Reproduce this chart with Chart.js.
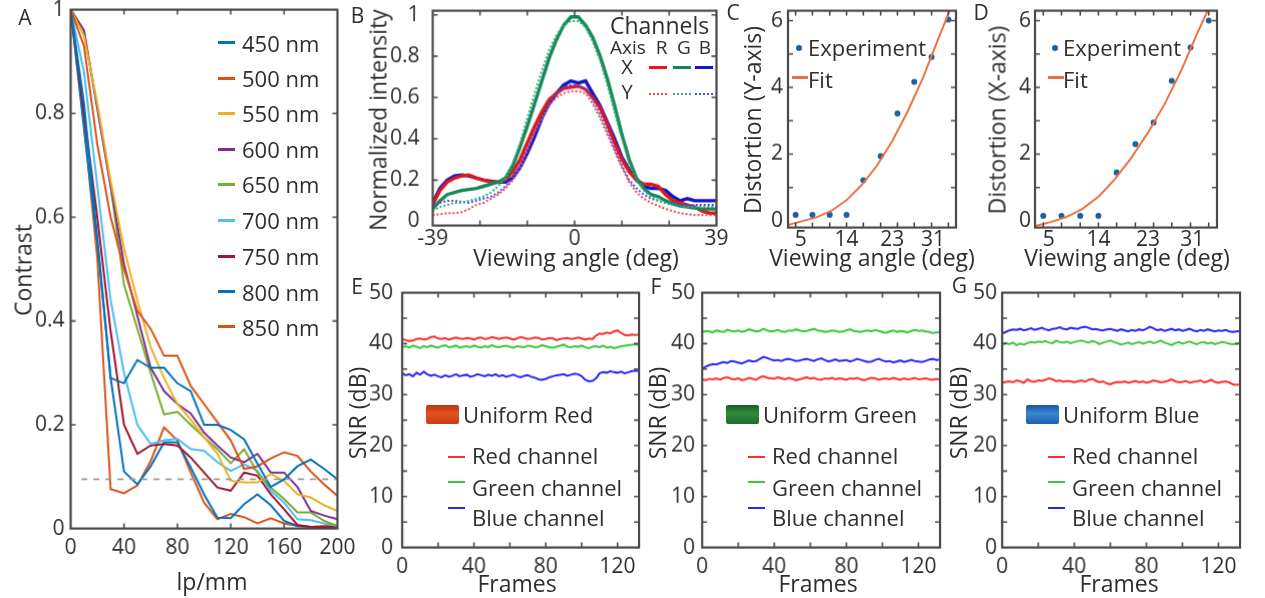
<!DOCTYPE html>
<html><head><meta charset="utf-8">
<script src="https://cdn.jsdelivr.net/npm/chart.js@4.4.0/dist/chart.umd.min.js"></script>
<style>
html,body{margin:0;padding:0;background:#fff;}
#stage{position:relative;width:1265px;height:598px;overflow:hidden;background:#fff;font-family:"Open Sans",sans-serif;color:#2e2e2e;}
.t{position:absolute;white-space:nowrap;line-height:1;}
.sw{position:absolute;}
</style></head><body><div id="stage"></div>
<script>
// ---------- Panel A: MTF contrast ----------
const lpmm = [0,10,20,30,40,50,60,70,80,90,100,110,120,130,140,150,160,170,180,190,200];
const wavelengths = ['450 nm','500 nm','550 nm','600 nm','650 nm','700 nm','750 nm','800 nm','850 nm'];
const c450 = [1.00,0.82,0.56,0.29,0.28,0.325,0.31,0.31,0.28,0.265,0.20,0.20,0.19,0.172,0.125,0.08,0.095,0.12,0.133,0.115,0.095];
const c500 = [1.00,0.93,0.74,0.60,0.50,0.42,0.385,0.333,0.333,0.275,0.24,0.205,0.17,0.115,0.12,0.135,0.147,0.14,0.11,0.085,0.063];
const c550 = [1.00,0.95,0.82,0.67,0.54,0.44,0.35,0.29,0.24,0.21,0.176,0.144,0.092,0.089,0.089,0.105,0.092,0.066,0.06,0.045,0.034];
const c600 = [1.00,0.96,0.81,0.66,0.51,0.41,0.31,0.265,0.24,0.222,0.185,0.16,0.137,0.128,0.144,0.108,0.108,0.08,0.034,0.025,0.018];
const c650 = [1.00,0.96,0.81,0.66,0.47,0.385,0.30,0.22,0.225,0.20,0.176,0.153,0.126,0.153,0.108,0.079,0.057,0.031,0.031,0.015,0.005];
const c700 = [1.00,0.88,0.66,0.44,0.30,0.20,0.163,0.17,0.173,0.153,0.15,0.128,0.111,0.124,0.111,0.073,0.05,0.018,0.016,0.01,0.005];
const c750 = [1.00,0.80,0.60,0.38,0.20,0.144,0.16,0.163,0.16,0.137,0.108,0.079,0.073,0.108,0.102,0.066,0.037,0.007,0.003,0.003,0.003];
const c800 = [1.00,0.77,0.55,0.29,0.11,0.085,0.12,0.166,0.166,0.118,0.066,0.021,0.02,0.047,0.066,0.045,0.015,0.005,0.003,0.003,0.003];
const c850 = [1.00,0.78,0.52,0.076,0.068,0.083,0.13,0.195,0.17,0.108,0.05,0.018,0.028,0.022,0.01,0.02,0.01,0.005,0.003,0.005,0.005];
const thresholdLevel = 0.095;
const thresholdRange = [8,200];
const ticksAx = [0,40,80,120,160,200];
const ticksAy = [0,0.2,0.4,0.6,0.8,1];

// ---------- Panel B: normalized intensity ----------
const angleB = [-39,-37,-35,-33,-31,-29,-27,-25,-23,-21,-19,-17,-15,-13,-11,-9,-7,-5,-3,-1,1,3,5,7,9,11,13,15,17,19,21,23,25,27,29,31,33,35,37,39];
const bRedX   = [0.08,0.15,0.19,0.21,0.22,0.225,0.21,0.20,0.19,0.19,0.20,0.24,0.30,0.38,0.46,0.53,0.59,0.62,0.645,0.65,0.655,0.64,0.60,0.55,0.47,0.38,0.30,0.24,0.20,0.18,0.18,0.17,0.13,0.10,0.09,0.08,0.07,0.05,0.04,0.04];
const bGreenX = [0.06,0.10,0.13,0.14,0.15,0.155,0.16,0.17,0.18,0.19,0.21,0.27,0.36,0.46,0.57,0.68,0.79,0.88,0.95,0.99,0.99,0.95,0.89,0.80,0.69,0.56,0.42,0.30,0.21,0.16,0.13,0.12,0.10,0.085,0.075,0.07,0.065,0.06,0.06,0.06];
const bBlueX  = [0.09,0.16,0.20,0.22,0.225,0.22,0.21,0.20,0.195,0.19,0.19,0.21,0.26,0.33,0.41,0.50,0.57,0.62,0.66,0.68,0.67,0.68,0.62,0.56,0.48,0.40,0.31,0.25,0.20,0.17,0.16,0.16,0.15,0.12,0.10,0.11,0.10,0.10,0.10,0.10];
const bRedY   = [0.03,0.035,0.04,0.04,0.045,0.06,0.08,0.09,0.11,0.13,0.16,0.20,0.26,0.34,0.43,0.50,0.56,0.60,0.62,0.63,0.63,0.62,0.57,0.50,0.42,0.34,0.26,0.19,0.14,0.11,0.09,0.075,0.06,0.05,0.04,0.035,0.03,0.03,0.03,0.03];
const bGreenY = [0.05,0.07,0.08,0.09,0.09,0.10,0.11,0.12,0.14,0.17,0.21,0.28,0.38,0.50,0.62,0.73,0.83,0.90,0.95,0.97,0.97,0.94,0.87,0.78,0.66,0.53,0.40,0.28,0.20,0.15,0.12,0.10,0.09,0.08,0.07,0.07,0.07,0.07,0.07,0.07];
const bBlueY  = [0.07,0.09,0.10,0.10,0.095,0.09,0.10,0.11,0.12,0.14,0.17,0.21,0.27,0.35,0.43,0.50,0.57,0.62,0.65,0.66,0.66,0.64,0.59,0.52,0.44,0.35,0.27,0.20,0.16,0.13,0.11,0.10,0.09,0.08,0.08,0.08,0.08,0.08,0.08,0.08];
const ticksBx = [-39,0,39];
const ticksBy = [0,0.2,0.4,0.6,0.8,1];

// ---------- Panels C, D: distortion ----------
const expAngle = [4,7.3,10.7,14,17.3,20.7,24,27.3,30.7,34];
const distYaxis = [0.18,0.18,0.18,0.18,1.22,1.94,3.22,4.17,4.91,6.03];
const distXaxis = [0.15,0.15,0.15,0.15,1.45,2.30,2.95,4.20,5.20,6.00];
const fitAngle = [2.5,5,8,11,14,17,20,23,26,29,32,34.5];
const fitYaxis = [-0.12,-0.02,0.10,0.30,0.62,1.08,1.66,2.40,3.28,4.28,5.45,6.40];
const fitXaxis = [-0.15,-0.05,0.10,0.35,0.72,1.25,1.90,2.65,3.50,4.50,5.65,6.55];
const ticksCDx = [5,14,23,31];
const ticksCDy = [0,2,4,6];

// ---------- Panels E, F, G: SNR vs frames ----------
const frameStep = 2;
const eRed   = [40.9,40.7,40.5,40.6,40.9,41.0,40.8,40.9,41.3,41.4,41.0,40.9,41.1,40.8,41.0,41.2,41.0,40.9,41.1,41.0,40.8,41.1,41.2,40.9,41.0,41.3,41.1,40.9,41.1,41.2,41.0,40.8,41.0,41.3,41.1,40.9,41.0,41.2,41.1,40.8,40.9,41.1,41.0,40.7,40.9,41.0,41.1,40.9,41.0,41.2,41.0,40.8,41.0,40.9,41.6,42.0,41.9,42.2,42.0,42.4,42.6,42.1,41.7,41.6,41.8,41.7,41.8];
const eGreen = [39.3,39.5,39.2,39.6,39.4,39.1,39.5,39.3,39.6,39.4,39.2,39.5,39.7,39.3,39.4,39.6,39.2,39.4,39.5,39.3,39.6,39.4,39.2,39.5,39.3,39.7,39.4,39.3,39.5,39.6,39.4,39.2,39.5,39.4,39.3,39.6,39.5,39.3,39.4,39.7,39.5,39.3,39.2,39.4,39.6,39.8,39.4,39.3,39.5,39.4,39.6,39.3,39.1,39.4,39.5,39.3,39.6,39.2,39.4,39.1,39.3,39.5,39.6,39.7,39.8,39.9,39.8];
const eBlue  = [34.2,33.8,34.0,33.6,34.3,33.9,34.5,34.0,33.7,33.9,33.6,33.4,33.8,33.5,33.7,34.0,33.6,33.8,33.9,33.5,33.7,34.0,33.8,33.6,33.9,33.7,34.0,33.6,33.8,33.5,33.7,33.9,33.6,33.4,33.7,33.8,33.5,33.3,33.0,32.9,33.1,33.4,33.6,33.8,33.9,34.0,33.7,33.9,34.1,34.0,33.6,32.9,32.6,32.7,33.2,34.2,34.4,34.3,34.6,34.4,34.3,34.5,34.2,34.4,34.6,34.7,34.6];
const fGreen = [42.3,42.5,42.4,42.2,42.6,42.4,42.3,42.7,42.5,42.4,42.6,42.3,42.5,42.8,42.6,42.4,42.5,42.9,42.6,42.4,42.5,42.7,42.4,42.3,42.6,42.5,42.8,42.6,42.4,42.5,42.7,42.9,42.6,42.5,42.3,42.4,42.6,42.5,42.3,42.4,42.6,42.8,42.5,42.4,42.3,42.5,42.6,42.4,42.7,42.5,42.3,42.1,42.4,42.6,42.3,42.5,42.4,42.2,42.5,42.7,42.5,42.6,42.4,42.3,42.1,42.2,42.3];
const fBlue  = [35.0,35.5,35.8,36.0,35.9,36.2,36.4,36.2,36.6,36.5,36.3,36.1,36.4,36.7,36.5,36.6,37.0,37.4,37.2,36.9,36.7,36.8,36.6,36.9,37.0,36.8,36.6,36.7,36.9,37.0,36.8,36.6,36.9,37.1,36.8,36.5,36.7,36.9,36.6,36.7,36.8,36.5,36.7,37.0,36.8,36.6,36.4,36.5,36.8,37.0,36.7,36.5,36.6,36.3,36.5,36.7,36.4,36.6,36.8,36.6,36.5,36.4,36.6,36.9,37.0,36.8,36.9];
const fRed   = [33.0,32.8,33.1,33.0,33.2,32.9,33.3,33.4,33.1,33.0,33.2,32.8,33.0,33.3,33.1,32.9,33.4,33.6,33.3,33.2,33.1,33.4,33.2,33.0,33.3,33.1,32.8,33.0,33.2,33.4,33.1,33.3,33.0,32.9,33.2,33.1,33.3,33.0,33.2,33.1,32.9,33.2,33.1,33.3,33.0,32.8,33.1,33.3,33.2,32.9,33.1,33.2,33.0,33.3,33.1,32.9,33.2,33.0,33.1,33.3,33.0,33.1,33.2,33.0,32.9,33.1,33.0];
const gBlue  = [42.0,42.3,42.6,42.8,42.7,42.9,42.6,42.8,43.0,42.7,42.9,43.1,42.8,42.6,42.9,43.0,43.2,42.9,42.8,43.1,43.0,42.9,43.2,43.3,43.1,42.8,42.9,42.7,42.6,42.8,42.9,42.7,42.5,42.8,42.6,42.4,42.7,42.5,42.8,42.6,42.9,43.3,43.0,42.6,42.8,42.5,42.7,42.9,42.6,42.8,42.5,42.7,42.9,42.6,42.4,42.7,42.5,42.8,42.6,42.4,42.6,42.5,42.7,42.4,42.3,42.4,42.5];
const gGreen = [39.8,40.1,39.9,40.2,39.7,40.0,39.8,40.1,40.3,40.2,40.4,40.3,40.5,40.2,40.1,40.6,40.3,40.2,40.4,40.1,40.3,40.5,40.6,40.4,40.2,40.5,40.3,39.9,40.2,40.4,40.6,40.3,40.1,39.8,40.0,40.2,39.9,40.1,40.3,40.0,40.2,40.4,40.1,40.3,40.6,40.2,40.0,39.7,40.1,40.3,40.0,40.2,40.4,40.1,39.9,40.2,40.3,40.0,40.2,39.9,40.1,40.3,40.2,40.0,39.9,40.0,40.1];
const gRed   = [32.3,32.5,32.6,32.4,32.8,32.6,32.3,33.0,32.6,32.5,32.8,32.7,32.9,33.2,33.0,32.6,32.8,32.5,32.7,32.6,32.4,32.6,32.8,32.5,32.9,33.1,32.7,32.4,32.6,32.2,32.0,32.3,32.5,32.4,32.6,32.3,32.5,32.7,32.4,32.6,32.3,32.5,32.8,32.6,32.4,32.5,32.7,33.0,32.6,32.4,32.5,32.7,32.3,32.5,32.6,32.8,32.4,32.6,32.9,32.5,32.3,32.5,32.6,32.4,32.0,31.9,32.0];
const ticksSNRx = [0,40,80,120];
const ticksSNRy = [0,10,20,30,40,50];

// ---------- helpers ----------
Chart.defaults.font.family = "'Open Sans', sans-serif";
Chart.defaults.color = '#2e2e2e';
const stage = document.getElementById('stage');
const TICK = 21;
const M = {blue:'#0072BD', orange:'#D95319', yellow:'#EDB120', purple:'#7E2F8E', green:'#77AC30', cyan:'#4DBEEE', maroon:'#A2142F'};

function pts(xs, ys){ return ys.map((v,i)=>({x:xs[i], y:v})); }
function framePts(ys){ return ys.map((v,i)=>({x:i*frameStep, y:v})); }

function axes(o){
  const mk = (min,max,t,pad)=>({type:'linear',min:min,max:max,
    grid:{display:false,drawTicks:false},border:{display:false},
    ticks:{padding:pad,autoSkip:false,maxRotation:0,minRotation:0,font:{size:TICK},color:'#2e2e2e',callback:v=>String(v)},
    afterBuildTicks:s=>{s.ticks=t.map(v=>({value:v}));}});
  return {x:mk(o.xmin,o.xmax,o.xt,o.xpad), y:mk(o.ymin,o.ymax,o.yt,o.ypad)};
}

function boxPlugin(xm, ym){
  return {id:'boxticks', afterDatasetsDraw(chart){
    const ctx=chart.ctx, a=chart.chartArea, sx=chart.scales.x, sy=chart.scales.y, L=5;
    ctx.save(); ctx.strokeStyle='#4a4a4a'; ctx.lineWidth=1.6; ctx.beginPath();
    xm.forEach(v=>{const p=sx.getPixelForValue(v); ctx.moveTo(p,a.bottom); ctx.lineTo(p,a.bottom-L); ctx.moveTo(p,a.top); ctx.lineTo(p,a.top+L);});
    ym.forEach(v=>{const p=sy.getPixelForValue(v); ctx.moveTo(a.left,p); ctx.lineTo(a.left+L,p); ctx.moveTo(a.right,p); ctx.lineTo(a.right-L,p);});
    ctx.stroke(); ctx.lineWidth=2.2; ctx.strokeRect(a.left,a.top,a.right-a.left,a.bottom-a.top); ctx.restore();
  }};
}

function mount(area, datasets, ax, xm, ym){
  const wrap=document.createElement('div');
  wrap.style.cssText='position:absolute;left:0;top:0;';
  const cv=document.createElement('canvas'); wrap.appendChild(cv); stage.appendChild(wrap);
  let W=area.r-area.l+100, H=area.b-area.t+60;
  wrap.style.width=W+'px'; wrap.style.height=H+'px';
  const ch=new Chart(cv,{type:'line',data:{datasets:datasets},
    options:{responsive:true,maintainAspectRatio:false,animation:false,events:[],
      layout:{padding:0},
      plugins:{legend:{display:false},tooltip:{enabled:false}},
      elements:{point:{radius:0},line:{tension:0}},
      scales:axes(ax)},
    plugins:[boxPlugin(xm,ym)]});
  for(let k=0;k<3;k++){
    const ca=ch.chartArea;
    W+=(area.r-area.l)-(ca.right-ca.left);
    H+=(area.b-area.t)-(ca.bottom-ca.top);
    wrap.style.width=W+'px'; wrap.style.height=H+'px';
    ch.resize();
  }
  const ca=ch.chartArea;
  wrap.style.left=(area.l-ca.left)+'px'; wrap.style.top=(area.t-ca.top)+'px';
  return ch;
}

function T(str,x,y,size,o){
  o=o||{};
  const d=document.createElement('div'); d.className='t'; d.textContent=str;
  d.style.fontSize=size+'px'; d.style.left=x+'px'; d.style.top=y+'px';
  let tf=o.left?'translate(0,-50%)':'translate(-50%,-50%)';
  if(o.rot) tf+=' rotate(-90deg)';
  d.style.transform=tf;
  if(o.color) d.style.color=o.color;
  stage.appendChild(d); return d;
}
function R(x,y,w,h,css){
  const d=document.createElement('div'); d.className='sw';
  d.style.left=x+'px'; d.style.top=y+'px'; d.style.width=w+'px'; d.style.height=h+'px';
  d.style.cssText+=css; stage.appendChild(d); return d;
}
function line(ds){ return Object.assign({borderWidth:2,pointRadius:0,fill:false},ds); }

// ---------- Panel A ----------
const aSeries=[c450,c500,c550,c600,c650,c700,c750,c800,c850];
const aColors=[M.blue,M.orange,M.yellow,M.purple,M.green,M.cyan,M.maroon,M.blue,M.orange];
const aDs=aSeries.map((s,i)=>line({data:pts(lpmm,s),borderColor:aColors[i],borderWidth:2}));
aDs.unshift(line({data:pts(thresholdRange,[thresholdLevel,thresholdLevel]),borderColor:'#9a9a9a',borderDash:[6,6],borderWidth:1.8}));
mount({l:71,t:10,r:337,b:528},aDs,{xmin:0,xmax:200,xt:ticksAx,ymin:0,ymax:1,yt:ticksAy,xpad:7,ypad:6},[40,80,120,160],[0.2,0.4,0.6,0.8]);

// ---------- Panel B ----------
const bDs=[
  line({data:pts(angleB,bRedY),borderColor:'#e84848',borderWidth:2,borderDash:[2,2]}),
  line({data:pts(angleB,bGreenY),borderColor:'#38a870',borderWidth:2,borderDash:[2,2]}),
  line({data:pts(angleB,bBlueY),borderColor:'#4a4ae6',borderWidth:2,borderDash:[2,2]}),
  line({data:pts(angleB,bGreenX),borderColor:'#12895a',borderWidth:3.4}),
  line({data:pts(angleB,bRedX),borderColor:'#e01818',borderWidth:3.4}),
  line({data:pts(angleB,bBlueX),borderColor:'#1414c8',borderWidth:3.4})
];
mount({l:433,t:11,r:716,b:225},bDs,{xmin:-39,xmax:39,xt:ticksBx,ymin:-0.02,ymax:1.02,yt:ticksBy,xpad:1,ypad:13},[-26,-13,0,13,26],[0.2,0.4,0.6,0.8,1]);

// ---------- Panels C, D ----------
function distDs(expY, fitY){
  return [
    line({data:pts(fitAngle,fitY),borderColor:'#ee7040',borderWidth:2}),
    {type:'scatter',data:pts(expAngle,expY),pointRadius:3,pointBackgroundColor:'#1f5f9f',pointBorderWidth:0,showLine:false}
  ];
}
mount({l:788,t:11,r:956,b:227},distDs(distYaxis,fitYaxis),{xmin:2.5,xmax:35.5,xt:ticksCDx,ymin:-0.2,ymax:6.3,yt:ticksCDy,xpad:0,ypad:5},expAngle,[1,2,3,4,5,6]);
mount({l:1035,t:11,r:1217,b:227},distDs(distXaxis,fitXaxis),{xmin:2.5,xmax:35.5,xt:ticksCDx,ymin:-0.2,ymax:6.3,yt:ticksCDy,xpad:0,ypad:4},expAngle,[1,2,3,4,5,6]);

// ---------- Panels E, F, G ----------
const SR='#ff2e2e', SG='#3cc83c', SB='#2626ff';
function snrDs(r,g,b){ return [
  line({data:framePts(r),borderColor:SR}),
  line({data:framePts(g),borderColor:SG}),
  line({data:framePts(b),borderColor:SB})]; }
const snrX=[20,40,60,80,100,120], snrY=[5,10,15,20,25,30,35,40,45];
mount({l:402,t:293,r:638,b:547},snrDs(eRed,eGreen,eBlue),{xmin:0,xmax:132,xt:ticksSNRx,ymin:0,ymax:50,yt:ticksSNRy,xpad:7,ypad:9},snrX,snrY);
mount({l:702,t:293,r:939,b:547},snrDs(fRed,fGreen,fBlue),{xmin:0,xmax:132,xt:ticksSNRx,ymin:0,ymax:50,yt:ticksSNRy,xpad:7,ypad:7},snrX,snrY);
mount({l:1002,t:293,r:1239,b:547},snrDs(gRed,gGreen,gBlue),{xmin:0,xmax:132,xt:ticksSNRx,ymin:0,ymax:50,yt:ticksSNRy,xpad:7,ypad:5},snrX,snrY);

// ---------- Text: panel letters ----------
const LT=21;
T('A',25,17,LT); T('B',357.5,14.5,LT); T('C',733,12,LT); T('D',981,12,LT);
T('E',357,286,LT); T('F',656,286,LT); T('G',959.5,285,LT);

// ---------- Axis titles ----------
const TT=23;
T('Contrast',23,270,TT,{rot:1}); T('lp/mm',212,581,TT);
T('Normalized intensity',378,120,TT,{rot:1}); T('Viewing angle (deg)',576,257,TT);
T('Distortion  (Y-axis)',752,120,TT,{rot:1}); T('Viewing angle (deg)',872,257,TT);
T('Distortion (X-axis)',997,120,TT,{rot:1}); T('Viewing angle (deg)',1127,257,TT);
T('SNR (dB)',357,413,TT,{rot:1}); T('Frames',517,583,TT);
T('SNR (dB)',657,413,TT,{rot:1}); T('Frames',818,583,TT);
T('SNR (dB)',958,413,TT,{rot:1}); T('Frames',1119,583,TT);

// ---------- Legend A ----------
const aRows=[42.7,78.3,113.3,149.3,184,220,256,291.5,326.7];
wavelengths.forEach((w,i)=>{ R(218,aRows[i]-1.5,17,3,'background:'+aColors[i]+';'); T(w,242,aRows[i],22,{left:1}); });

// ---------- Legend B ----------
T('Channels',610,25,23,{left:1});
T('Axis',610,46.7,19,{left:1}); T('R',661.7,46.7,19); T('G',684,46.7,19); T('B',705,46.7,19);
T('X',627,66.7,20); T('Y',627,91.7,20);
[['#e01818',649],['#12895a',673],['#1414c8',695]].forEach(c=>R(c[1],65.5,18,3,'background:'+c[0]+';'));
[['#e84848',649],['#38a870',673],['#4a4ae6',695]].forEach(c=>R(c[1],93,18,0,'border-top:2.5px dotted '+c[0]+';'));

// ---------- Legends C, D ----------
[[799.3,808,791.7],[1055,1063,1048]].forEach(p=>{
  R(p[0]-3,45,6,6,'background:#1f5f9f;border-radius:50%;');
  T('Experiment',p[1],47,22,{left:1});
  R(p[2],76,16,2.5,'background:#ee7040;');
  T('Fit',p[1],79,22,{left:1});
});

// ---------- Legends E, F, G ----------
const swGrad={
  'Uniform Red':'linear-gradient(180deg,#b8340f,#e2521f 45%,#c43d14)',
  'Uniform Green':'linear-gradient(180deg,#1b5e26,#2f8a3b 45%,#1f6a2b)',
  'Uniform Blue':'linear-gradient(180deg,#1a55a0,#3a86d4 45%,#1f5fae)'};
[[402,'Uniform Red'],[702,'Uniform Green'],[1002,'Uniform Blue']].forEach(p=>{
  const L=p[0];
  R(L+24,405,33,19,'background:'+swGrad[p[1]]+';border-radius:2px;');
  T(p[1],L+61,413.5,22,{left:1});
  R(L+46,455.5,17,2.5,'background:'+SR+';'); T('Red channel',L+70,455,22,{left:1});
  R(L+46,480.5,17,2.5,'background:'+SG+';'); T('Green channel',L+70,486.5,22,{left:1});
  R(L+46,506.5,17,2.5,'background:'+SB+';'); T('Blue channel',L+70,517,22,{left:1});
});
</script></body></html>
